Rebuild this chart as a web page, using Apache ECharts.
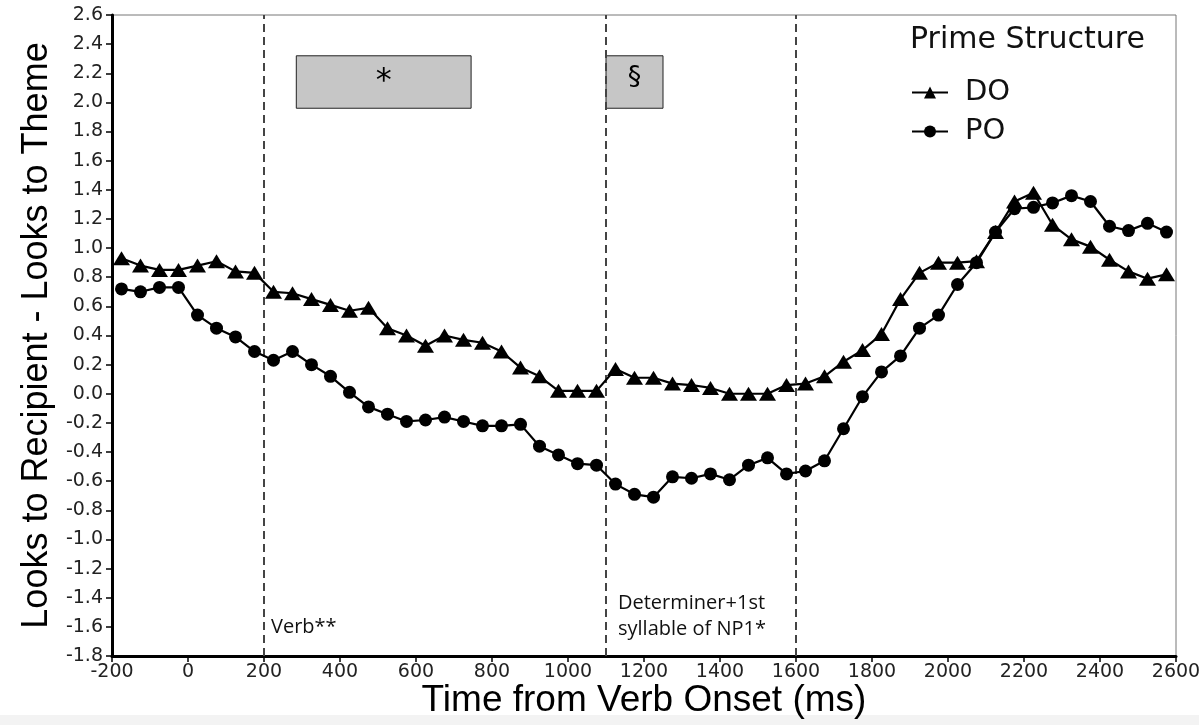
<!DOCTYPE html>
<html>
<head>
<meta charset="utf-8">
<script src="https://cdn.jsdelivr.net/npm/echarts@6/dist/echarts.min.js"></script>
<style>
html,body{margin:0;padding:0;background:#fff;}
#chart{width:1199px;height:725px;}
</style>
</head>
<body>
<div id="chart"></div>
<script>
// ---- data ----
const timeBins = [-175,-125,-75,-25,25,75,125,175,225,275,325,375,425,475,525,575,625,675,725,775,825,875,925,975,1025,1075,1125,1175,1225,1275,1325,1375,1425,1475,1525,1575,1625,1675,1725,1775,1825,1875,1925,1975,2025,2075,2125,2175,2225,2275,2325,2375,2425,2475,2525,2575];
const doValues = [0.93,0.88,0.85,0.85,0.88,0.91,0.84,0.83,0.70,0.69,0.65,0.61,0.57,0.59,0.45,0.40,0.33,0.40,0.37,0.35,0.29,0.18,0.12,0.02,0.02,0.02,0.17,0.11,0.11,0.07,0.06,0.04,0.00,0.00,0.00,0.06,0.07,0.12,0.22,0.30,0.41,0.65,0.83,0.90,0.90,0.91,1.11,1.32,1.38,1.16,1.06,1.01,0.92,0.84,0.79,0.82];
const poValues = [0.72,0.70,0.73,0.73,0.54,0.45,0.39,0.29,0.23,0.29,0.20,0.12,0.01,-0.09,-0.14,-0.19,-0.18,-0.16,-0.19,-0.22,-0.22,-0.21,-0.36,-0.42,-0.48,-0.49,-0.62,-0.69,-0.71,-0.57,-0.58,-0.55,-0.59,-0.49,-0.44,-0.55,-0.53,-0.46,-0.24,-0.02,0.15,0.26,0.45,0.54,0.75,0.90,1.11,1.27,1.28,1.31,1.36,1.32,1.15,1.12,1.17,1.11];
const seriesNames = ['DO','PO'];
const regionLines = [200, 1100, 1600];
const regionLabels = [
  {x: 200, y: -1.60, dx: 7, text: 'Verb**'},
  {x: 1100, y: -1.44, dx: 12, text: 'Determiner+1st'},
  {x: 1100, y: -1.62, dx: 12, text: 'syllable of NP1*'}
];
const sigBoxes = [
  {x0: 285, x1: 745, y0: 1.96, y1: 2.32, label: '*', size: 32, dy: 0},
  {x0: 1100, x1: 1250, y0: 1.96, y1: 2.32, label: '§', size: 27, dy: -4}
];
const xTitle = 'Time from Verb Onset (ms)';
const yTitle = 'Looks to Recipient - Looks to Theme';
const legendTitle = 'Prime Structure';

// ---- chart ----
const chart = echarts.init(document.getElementById('chart'), null, {renderer: 'canvas'});
const FONT = "'DejaVu Sans', sans-serif";
const ARIAL = "'Liberation Sans', Arial, sans-serif";

const option = {
  animation: false,
  backgroundColor: '#ffffff',
  grid: {left: 112, top: 15, right: 23, bottom: 69, show: true, borderColor: '#777', borderWidth: 1,
    backgroundColor: 'transparent', containLabel: false, outerBoundsMode: 'none'},
  xAxis: {
    type: 'value', min: -200, max: 2600, interval: 200,
    axisLine: {show: true, onZero: false, lineStyle: {color: '#000', width: 3}},
    axisTick: {show: true, length: 6, lineStyle: {color: '#000', width: 1.5}},
    axisLabel: {color: '#222', fontSize: 19, fontFamily: FONT, margin: 7, formatter: v => String(v)},
    splitLine: {show: false}
  },
  yAxis: {
    type: 'value', min: -1.8, max: 2.6, interval: 0.2,
    axisLine: {show: true, onZero: false, lineStyle: {color: '#000', width: 3}},
    axisTick: {show: true, length: 6, lineStyle: {color: '#000', width: 1.5}},
    axisLabel: {color: '#222', fontSize: 19, fontFamily: FONT, margin: 9,
      formatter: v => (Math.abs(v) < 1e-9 ? 0 : v).toFixed(1)},
    splitLine: {show: false}
  },
  legend: {
    data: seriesNames,
    orient: 'vertical', left: 911, top: 78,
    itemWidth: 36, itemHeight: 15, itemGap: 10,
    padding: 0,
    textStyle: {fontSize: 29, fontFamily: FONT, color: '#111', padding: [0,0,0,12]}
  },
  series: [
    {
      name: seriesNames[0], type: 'line',
      data: timeBins.map((t, i) => [t, doValues[i]]),
      symbol: 'triangle', symbolSize: [17, 14],
      itemStyle: {color: '#000'}, lineStyle: {color: '#000', width: 2.2},
      z: 5,
      markLine: {
        silent: true, symbol: ['none','none'],
        lineStyle: {color: '#444', width: 2, type: [8,5]},
        label: {show: false},
        data: regionLines.map(x => ({xAxis: x}))
      },
      markArea: {
        silent: true,
        itemStyle: {color: '#c6c6c6', borderColor: '#222', borderWidth: 1},
        data: sigBoxes.map(b => [
          {xAxis: b.x0, yAxis: b.y1, name: b.label,
            label: {show: true, position: 'inside', offset: [0, b.dy], color: '#000', fontFamily: FONT, fontSize: b.size}},
          {xAxis: b.x1, yAxis: b.y0}
        ])
      }
    },
    {
      name: seriesNames[1], type: 'line',
      data: timeBins.map((t, i) => [t, poValues[i]]),
      symbol: 'circle', symbolSize: 13,
      itemStyle: {color: '#000'}, lineStyle: {color: '#000', width: 2.2},
      z: 5
    }
  ]
};
chart.setOption(option);

// text elements placed through the chart's own coordinate system
function px(x, y) { return chart.convertToPixel({gridIndex: 0}, [x, y]); }
const g = [];
g.push({type: 'rect', shape: {x: 0, y: 715, width: 1199, height: 10}, style: {fill: '#f3f3f3'}, z: -10, silent: true});
regionLabels.forEach(l => {
  const p = px(l.x, l.y);
  g.push({type: 'text', x: p[0] + l.dx, y: p[1], style: {text: l.text, fontSize: 20, fontFamily: "'Open Sans', sans-serif", fill: '#111', verticalAlign: 'middle', align: 'left'}, z: 10});
});
const gridLeft = px(-200, 0)[0], gridRight = px(2600, 0)[0];
const gridTop = px(0, 2.6)[1], gridBottom = px(0, -1.8)[1];
g.push({type: 'text', x: (gridLeft + gridRight) / 2, y: 701, style: {text: xTitle, fontSize: 37, fontFamily: ARIAL, fill: '#000', align: 'center', verticalAlign: 'middle'}, z: 10});
g.push({type: 'text', x: 37, y: (gridTop + gridBottom) / 2, rotation: Math.PI / 2, style: {text: yTitle, fontSize: 36, fontFamily: ARIAL, fill: '#000', align: 'center', verticalAlign: 'middle'}, z: 10});
g.push({type: 'text', x: 910, y: 40, style: {text: legendTitle, fontSize: 30, fontFamily: FONT, fill: '#111', align: 'left', verticalAlign: 'middle'}, z: 10});
chart.setOption({graphic: g});
</script>
</body>
</html>
